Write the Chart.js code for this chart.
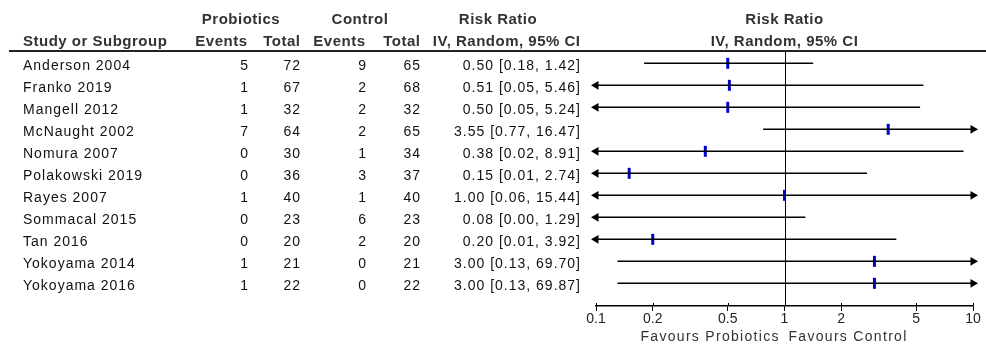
<!DOCTYPE html>
<html>
<head>
<meta charset="utf-8">
<title>Risk Ratio forest plot</title>
<script src="https://cdn.jsdelivr.net/npm/chart.js@4.4.1/dist/chart.umd.min.js"></script>
<style>
  html, body { margin: 0; padding: 0; background: #fff; }
  #forest { display: block; }
</style>
</head>
<body>
<canvas id="forest" width="986" height="349"></canvas>
<script>
// study rows, top to bottom
const studies = [
  'Anderson 2004', 'Franko 2019', 'Mangell 2012', 'McNaught 2002', 'Nomura 2007',
  'Polakowski 2019', 'Rayes 2007', 'Sommacal 2015', 'Tan 2016', 'Yokoyama 2014', 'Yokoyama 2016'
];
const probEvents = [5, 1, 1, 7, 0, 0, 1, 0, 0, 1, 1];
const probTotal  = [72, 67, 32, 64, 30, 36, 40, 23, 20, 21, 22];
const ctrlEvents = [9, 2, 2, 2, 1, 3, 1, 6, 2, 0, 0];
const ctrlTotal  = [65, 68, 32, 65, 34, 37, 40, 23, 20, 21, 22];
const riskRatio  = [0.50, 0.51, 0.50, 3.55, 0.38, 0.15, 1.00, 0.08, 0.20, 3.00, 3.00];
const ciLower    = [0.18, 0.05, 0.05, 0.77, 0.02, 0.01, 0.06, 0.00, 0.01, 0.13, 0.13];
const ciUpper    = [1.42, 5.46, 5.24, 16.47, 8.91, 2.74, 15.44, 1.29, 3.92, 69.70, 69.87];

const tickValues = [0.1, 0.2, 0.5, 1, 2, 5, 10];
const tickLabels = ['0.1', '0.2', '0.5', '1', '2', '5', '10'];
const axisMin = 0.1;
const axisMax = 10;

const FONT = '"Liberation Sans", Arial, sans-serif';

function fmt(v) { return v.toFixed(2); }

// one short line per study for the confidence interval
const ciSets = studies.map((s, i) => ({
  type: 'scatter',
  showLine: true,
  data: [
    { x: Math.max(ciLower[i], axisMin), y: i },
    { x: Math.min(ciUpper[i], axisMax), y: i }
  ],
  borderColor: '#000',
  borderWidth: 1.5,
  pointRadius: 0,
  clip: 0
}));

// arrows where the interval runs off the axis
const arrows = [];
studies.forEach((s, i) => {
  if (ciLower[i] < axisMin) arrows.push({ x: axisMin, y: i, dir: -1 });
  if (ciUpper[i] > axisMax) arrows.push({ x: axisMax, y: i, dir: 1 });
});

const tablePlugin = {
  id: 'forestTable',
  beforeDatasetsDraw(chart) {
    const ctx = chart.ctx;
    const xs = chart.scales.x;
    const area = chart.chartArea;
    const x1 = Math.round(xs.getPixelForValue(1)) + 0.5;
    ctx.save();
    ctx.strokeStyle = '#000';
    ctx.lineWidth = 1;
    ctx.beginPath();
    ctx.moveTo(x1, area.top);
    ctx.lineTo(x1, area.bottom);
    ctx.stroke();
    ctx.restore();
  },
  afterDraw(chart) {
    const ctx = chart.ctx;
    const xs = chart.scales.x;
    const ys = chart.scales.y;
    const area = chart.chartArea;
    const x1 = xs.getPixelForValue(1);
    ctx.save();

    // header rule
    ctx.strokeStyle = '#222';
    ctx.lineWidth = 2;
    ctx.beginPath();
    ctx.moveTo(9, area.top);
    ctx.lineTo(986, area.top);
    ctx.stroke();

    // small upward halves of the axis ticks
    ctx.lineWidth = 1;
    ctx.strokeStyle = '#000';
    tickValues.forEach(v => {
      const px = Math.round(xs.getPixelForValue(v)) + 0.5;
      ctx.beginPath();
      ctx.moveTo(px, area.bottom - 3);
      ctx.lineTo(px, area.bottom);
      ctx.stroke();
    });

    // headers
    const hs = 0.5;
    ctx.fillStyle = '#333';
    ctx.font = 'bold 15px ' + FONT;
    ctx.letterSpacing = hs + 'px';
    ctx.textBaseline = 'middle';
    ctx.textAlign = 'center';
    ctx.fillText('Probiotics', 241, 20);
    ctx.fillText('Control', 360, 20);
    ctx.fillText('Risk Ratio', 498, 20);
    ctx.fillText('Risk Ratio', x1, 20);
    ctx.fillText('IV, Random, 95% CI', x1, 42);
    ctx.textAlign = 'left';
    ctx.fillText('Study or Subgroup', 23, 42);
    ctx.textAlign = 'right';
    ctx.fillText('Events', 247 + hs, 42);
    ctx.fillText('Total', 300 + hs, 42);
    ctx.fillText('Events', 365 + hs, 42);
    ctx.fillText('Total', 420 + hs, 42);
    ctx.fillText('IV, Random, 95% CI', 580 + hs, 42);

    // rows
    const bs = 1;
    ctx.fillStyle = '#111';
    ctx.font = '14px ' + FONT;
    ctx.letterSpacing = bs + 'px';
    studies.forEach((name, i) => {
      const y = ys.getPixelForValue(i) + 3;
      ctx.textAlign = 'left';
      ctx.fillText(name, 23, y);
      ctx.textAlign = 'right';
      ctx.fillText(String(probEvents[i]), 248 + bs, y);
      ctx.fillText(String(probTotal[i]), 300 + bs, y);
      ctx.fillText(String(ctrlEvents[i]), 366 + bs, y);
      ctx.fillText(String(ctrlTotal[i]), 420 + bs, y);
      ctx.fillText(fmt(riskRatio[i]) + ' [' + fmt(ciLower[i]) + ', ' + fmt(ciUpper[i]) + ']', 580 + bs, y);
    });

    // favours labels under the axis
    const fs = 1.3;
    ctx.fillStyle = '#333';
    ctx.letterSpacing = fs + 'px';
    ctx.textAlign = 'right';
    ctx.fillText('Favours Probiotics', x1 - 6 + fs, 337);
    ctx.textAlign = 'left';
    ctx.fillText('Favours Control', x1 + 4, 337);
    ctx.restore();
  }
};

new Chart(document.getElementById('forest').getContext('2d'), {
  type: 'scatter',
  data: {
    datasets: [
      ...ciSets,
      {
        data: studies.map((s, i) => ({ x: riskRatio[i], y: i })),
        pointStyle: 'line',
        rotation: 90,
        pointRadius: 5.5,
        pointBorderWidth: 3,
        borderColor: '#0000cc',
        backgroundColor: '#0000cc',
        clip: 0
      },
      {
        data: arrows,
        pointStyle: 'triangle',
        rotation: ctx => (ctx.raw && ctx.raw.dir > 0 ? 90 : 270),
        pointRadius: 5,
        pointBorderWidth: 0,
        borderColor: '#000',
        backgroundColor: '#000',
        clip: false
      }
    ]
  },
  options: {
    responsive: false,
    devicePixelRatio: 1,
    animation: false,
    events: [],
    layout: { padding: { left: 596, right: 13, top: 51, bottom: 0 } },
    plugins: {
      legend: { display: false },
      tooltip: { enabled: false }
    },
    scales: {
      x: {
        type: 'logarithmic',
        min: axisMin,
        max: axisMax,
        afterBuildTicks: scale => { scale.ticks = tickValues.map(v => ({ value: v })); },
        afterFit: scale => { scale.height = 43; },
        ticks: {
          autoSkip: false,
          maxRotation: 0,
          padding: 0,
          color: '#222',
          font: { family: FONT, size: 14 },
          callback: (v) => tickLabels[tickValues.indexOf(v)] ?? ''
        },
        grid: { drawOnChartArea: false, drawTicks: true, tickLength: 5, color: '#000' },
        border: { display: true, color: '#000', width: 1.5 }
      },
      y: {
        type: 'linear',
        display: false,
        reverse: true,
        min: -0.56,
        max: 11.03
      }
    }
  },
  plugins: [tablePlugin]
});
</script>
</body>
</html>
